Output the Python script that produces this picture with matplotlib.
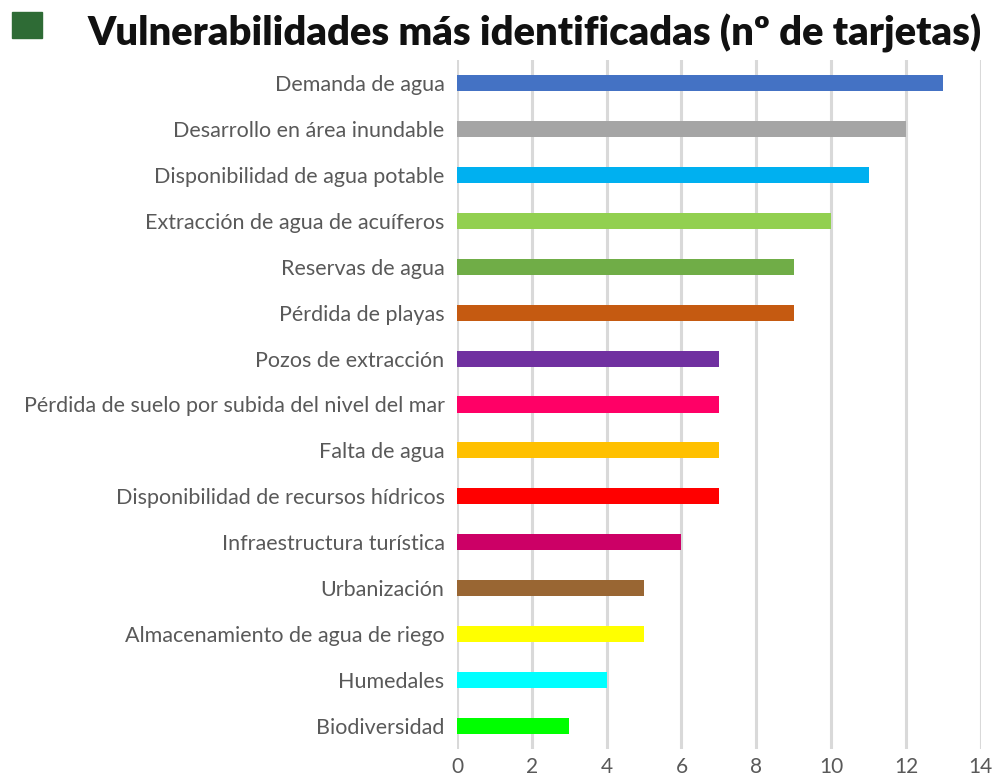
import matplotlib.pyplot as plt
from matplotlib.patches import Rectangle

categories = [
    "Demanda de agua",
    "Desarrollo en área inundable",
    "Disponibilidad de agua potable",
    "Extracción de agua de acuíferos",
    "Reservas de agua",
    "Pérdida de playas",
    "Pozos de extracción",
    "Pérdida de suelo por subida del nivel del mar",
    "Falta de agua",
    "Disponibilidad de recursos hídricos",
    "Infraestructura turística",
    "Urbanización",
    "Almacenamiento de agua de riego",
    "Humedales",
    "Biodiversidad",
]
values = [13, 12, 11, 10, 9, 9, 7, 7, 7, 7, 6, 5, 5, 4, 3]
colors = [
    "#4472C4", "#A5A5A5", "#00B0F0", "#92D050", "#70AD47",
    "#C55A11", "#7030A0", "#FF0066", "#FFC000", "#FF0000",
    "#CC0066", "#996633", "#FFFF00", "#00FFFF", "#00FF00",
]
xticks = [0, 2, 4, 6, 8, 10, 12, 14]

plt.rcParams["font.family"] = ["Lato", "DejaVu Sans"]

fig = plt.figure(figsize=(9.92, 7.78), dpi=100)
ax = fig.add_axes([0.4607, 0.0373, 0.528, 0.8856])

pos = list(range(len(categories)))
ax.barh(pos, values, height=0.35, color=colors, zorder=3)

ax.set_ylim(len(categories) - 0.5, -0.5)
ax.set_xlim(0, 14)
ax.set_xticks(xticks)
ax.set_yticks(pos)
ax.set_yticklabels(categories)

ax.grid(axis="x", color="#D9D9D9", linewidth=2.2, zorder=0)
for s in ax.spines.values():
    s.set_visible(False)
ax.tick_params(axis="both", length=0, colors="#595959")
ax.tick_params(axis="y", pad=9, labelsize=15.5)
ax.tick_params(axis="x", pad=6, labelsize=15)

# title with green square marker
fig.patches.append(Rectangle((12 / 992, 1 - 38 / 778), 30 / 992, 26 / 778,
                             transform=fig.transFigure, color="#2E6B35"))
fig.text(88 / 992, 1 - 33 / 778, "Vulnerabilidades más identificadas (nº de tarjetas)",
         fontsize=28.7, fontweight="heavy", color="#111111", va="center", ha="left")

fig.savefig("out.png", dpi=100)
